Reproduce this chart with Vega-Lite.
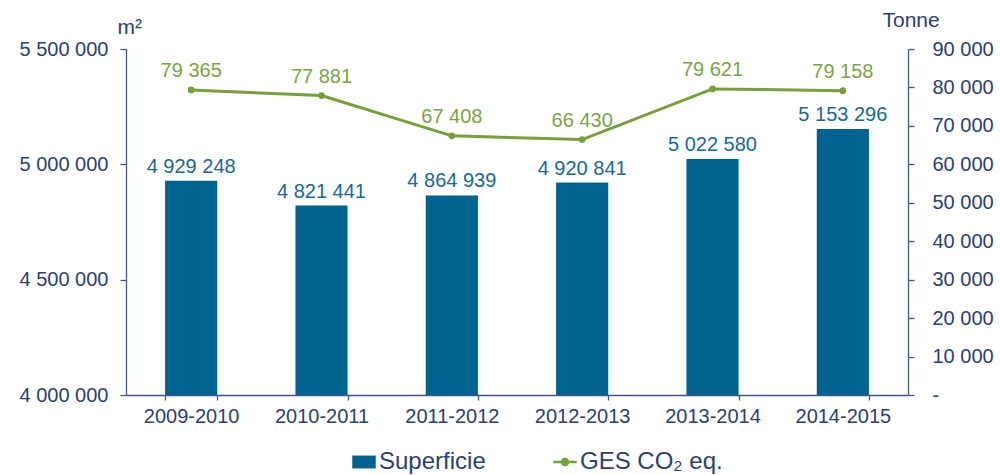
{
  "$schema": "https://vega.github.io/schema/vega-lite/v6.json",
  "width": 782,
  "height": 346,
  "autosize": {"type": "none"},
  "padding": {"left": 126, "top": 49, "right": 92, "bottom": 80},
  "data": {
    "values": [
      {"annee": "2009-2010", "superficie": 4929248, "ges": 79365, "s1": "Superficie", "s2": "GES CO₂ eq."},
      {"annee": "2010-2011", "superficie": 4821441, "ges": 77881, "s1": "Superficie", "s2": "GES CO₂ eq."},
      {"annee": "2011-2012", "superficie": 4864939, "ges": 67408, "s1": "Superficie", "s2": "GES CO₂ eq."},
      {"annee": "2012-2013", "superficie": 4920841, "ges": 66430, "s1": "Superficie", "s2": "GES CO₂ eq."},
      {"annee": "2013-2014", "superficie": 5022580, "ges": 79621, "s1": "Superficie", "s2": "GES CO₂ eq."},
      {"annee": "2014-2015", "superficie": 5153296, "ges": 79158, "s1": "Superficie", "s2": "GES CO₂ eq."}
    ]
  },
  "encoding": {
    "x": {
      "field": "annee",
      "type": "nominal",
      "sort": null,
      "title": null,
      "scale": {"paddingInner": 0.6, "paddingOuter": 0.3},
      "axis": {
        "labelAngle": 0,
        "tickBand": "extent",
        "tickSize": 5,
        "labelPadding": 6,
        "labelFontSize": 20
      }
    }
  },
  "layer": [
    {
      "encoding": {
        "y": {
          "field": "superficie",
          "type": "quantitative",
          "scale": {"domain": [4000000, 5500000], "zero": false, "nice": false},
          "axis": {
            "orient": "left",
            "values": [4000000, 4500000, 5000000, 5500000],
            "labelExpr": "replace(format(datum.value, ','), /,/g, ' ')",
            "labelOverlap": false,
            "grid": false,
            "tickSize": 6,
            "labelPadding": 12,
            "labelFontSize": 20,
            "title": "m²",
            "titleAngle": 0,
            "titleAlign": "left",
            "titleBaseline": "alphabetic",
            "titleX": -9,
            "titleY": -16,
            "titleFontSize": 21,
            "titleFontWeight": "normal"
          }
        }
      },
      "layer": [
        {
          "mark": {"type": "bar"},
          "encoding": {
            "y2": {"datum": 4000000},
            "color": {
              "field": "s1",
              "type": "nominal",
              "scale": {"domain": ["Superficie", "GES CO₂ eq."], "range": ["#00628F", "#77A03B"]},
              "legend": {
                "title": null,
                "orient": "none",
                "direction": "horizontal",
                "legendX": 226,
                "legendY": 401,
                "padding": 0,
                "labelFontSize": 24,
                "labelColor": "#2B3F73",
                "labelOffset": 3,
                "columnPadding": 62,
                "symbolSize": 550,
                "encode": {
                  "symbols": {
                    "update": {
                      "shape": {"signal": "datum.value === 'Superficie' ? 'M-1,-0.55H1V0.55H-1Z' : 'M-1,0H1M-0.26,0A0.26,0.26 0 1,1 0.26,0A0.26,0.26 0 1,1 -0.26,0Z'"},
                      "fill": {"signal": "datum.value === 'Superficie' ? '#00628F' : '#77A03B'"},
                      "stroke": {"signal": "datum.value === 'Superficie' ? '#00628F' : '#77A03B'"},
                      "strokeWidth": {"signal": "datum.value === 'Superficie' ? 0 : 2.5"},
                      "fillOpacity": {"value": 1},
                      "opacity": {"value": 1}
                    }
                  }
                }
              }
            }
          }
        },
        {
          "mark": {"type": "text", "baseline": "alphabetic", "dy": -8, "fontSize": 20, "color": "#17699A"},
          "encoding": {
            "text": {"field": "superficie", "type": "quantitative", "format": ","}
          }
        }
      ]
    },
    {
      "encoding": {
        "y": {
          "field": "ges",
          "type": "quantitative",
          "scale": {"domain": [0, 90000], "nice": false},
          "axis": {
            "orient": "right",
            "values": [0, 10000, 20000, 30000, 40000, 50000, 60000, 70000, 80000, 90000],
            "labelExpr": "datum.value === 0 ? '-' : replace(format(datum.value, ','), /,/g, ' ')",
            "labelOverlap": false,
            "grid": false,
            "tickSize": 6,
            "labelPadding": 18,
            "labelFontSize": 20,
            "title": "Tonne",
            "titleAngle": 0,
            "titleAlign": "left",
            "titleBaseline": "alphabetic",
            "titleX": -26,
            "titleY": -23,
            "titleFontSize": 21,
            "titleFontWeight": "normal"
          }
        }
      },
      "layer": [
        {
          "mark": {"type": "line", "strokeWidth": 3, "point": {"filled": true, "size": 45}},
          "encoding": {
            "color": {"field": "s2", "type": "nominal"}
          }
        },
        {
          "mark": {"type": "text", "baseline": "alphabetic", "dy": -13, "fontSize": 20, "color": "#7BA544"},
          "encoding": {
            "text": {"field": "ges", "type": "quantitative", "format": ","}
          }
        }
      ]
    }
  ],
  "resolve": {"scale": {"y": "independent"}, "axis": {"y": "independent"}},
  "config": {
    "locale": {"number": {"decimal": ",", "thousands": " ", "grouping": [3], "currency": ["", " €"]}},
    "font": "Liberation Sans",
    "view": {"stroke": null},
    "axis": {
      "domainColor": "#44568C",
      "tickColor": "#44568C",
      "labelColor": "#2B3F73",
      "titleColor": "#2B3F73",
      "labelFont": "Liberation Sans",
      "titleFont": "Liberation Sans",
      "domainWidth": 1.3,
      "tickWidth": 1.3
    },
    "legend": {"labelFont": "Liberation Sans"}
  }
}
